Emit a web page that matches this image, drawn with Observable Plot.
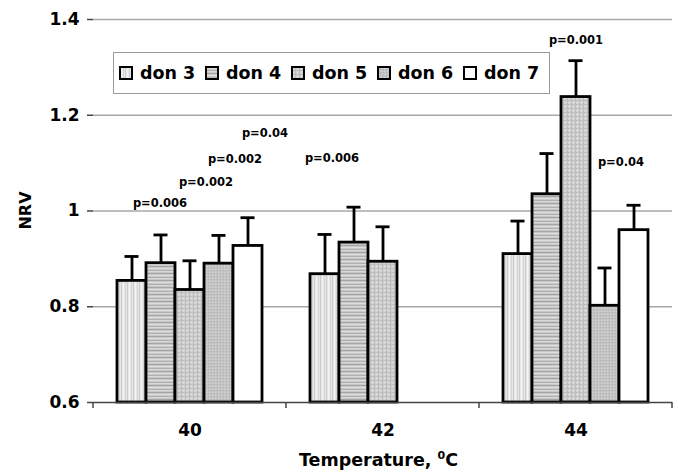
<!DOCTYPE html>
<html><head><meta charset="utf-8">
<script src="https://cdn.jsdelivr.net/npm/d3@7"></script>
<script src="https://cdn.jsdelivr.net/npm/@observablehq/plot@0.6"></script>
<style>
body{margin:0;background:#fff;}
#wrap{position:relative;width:678px;height:475px;font-family:"DejaVu Sans",sans-serif;}
#wrap svg text{font-weight:bold;}
#legend{position:absolute;left:113px;top:52px;width:437px;height:42px;border:1px solid #9a9a9a;background:#fff;box-sizing:border-box;display:flex;align-items:center;padding-left:5px;}
.item{display:flex;align-items:center;width:87.5px;font-weight:bold;font-size:17.5px;color:#000;}
.item svg{margin-right:7px;display:block;}
</style></head><body>
<svg width="0" height="0" style="position:absolute">
<defs>
<pattern id="pat3" patternUnits="userSpaceOnUse" width="6" height="4">
<rect width="6" height="4" fill="#e6e6e6"/><rect x="0" width="1" height="4" fill="#cdcdcd"/><rect x="2" width="1" height="4" fill="#f4f4f4"/><rect x="4" width="1" height="4" fill="#d6d6d6"/>
</pattern>
<pattern id="pat4" patternUnits="userSpaceOnUse" width="4" height="7">
<rect width="4" height="7" fill="#c8c8c8"/><rect y="0" width="4" height="1" fill="#a4a4a4"/><rect y="2" width="4" height="1" fill="#dedede"/><rect y="4" width="4" height="1" fill="#b0b0b0"/><rect y="5" width="4" height="1" fill="#d8d8d8"/>
</pattern>
<pattern id="pat5" patternUnits="userSpaceOnUse" width="4" height="4">
<rect width="4" height="4" fill="#d2d2d2"/><rect x="0" width="1" height="4" fill="#bcbcbc"/><rect y="0" width="4" height="1" fill="#bebebe"/><rect x="2" y="2" width="1" height="1" fill="#e6e6e6"/>
</pattern>
<pattern id="pat6" patternUnits="userSpaceOnUse" width="3" height="3">
<rect width="3" height="3" fill="#c4c4c4"/><rect x="0" y="0" width="1" height="1" fill="#afafaf"/><rect x="1" y="2" width="1" height="1" fill="#d6d6d6"/>
</pattern>
</defs></svg>
<div id="wrap"><div id="legend"></div></div>
<script>
// ---- data ----
const temps = ["40", "42", "44"];
const donors = ["don 3", "don 4", "don 5", "don 6", "don 7"];
const nrv40 = [0.854, 0.891, 0.835, 0.890, 0.927];
const err40 = [0.051, 0.059, 0.061, 0.059, 0.059];
const nrv42 = [0.868, 0.934, 0.894];
const err42 = [0.083, 0.074, 0.073];
const nrv44 = [0.910, 1.035, 1.238, 0.802, 0.960];
const err44 = [0.069, 0.085, 0.076, 0.079, 0.052];
const yTicks = [0.6, 0.8, 1.0, 1.2, 1.4];
const pTemps = ["40", "40", "40", "40", "42", "44", "44"];
const pDonors = ["don 4", "don 5", "don 6", "don 7", "don 3", "don 5", "don 6"];
const pLevels = [1.017, 1.059, 1.109, 1.163, 1.110, 1.356, 1.101];
const pTexts = ["p=0.006", "p=0.002", "p=0.002", "p=0.04", "p=0.006", "p=0.001", "p=0.04"];

// ---- build table ----
const series = [[nrv40, err40], [nrv42, err42], [nrv44, err44]];
const rows = [];
temps.forEach((t, i) => {
  const [vals, errs] = series[i];
  vals.forEach((v, j) => rows.push({temp: t, donor: donors[j], value: v, err: errs[j]}));
});
const notes = pTexts.map((s, i) => ({temp: pTemps[i], donor: pDonors[i], level: pLevels[i], text: s}));
const fills = ["url(#pat3)", "url(#pat4)", "url(#pat5)", "url(#pat6)", "#ffffff"];
const yMin = yTicks[0];
// label nudges (style): centered on bar or at the bar's right edge
const noteDx = [-1, 16, 16, 17, 7, 0, 16];

const plot = Plot.plot({
  width: 678, height: 475,
  marginLeft: 92, marginRight: 6, marginTop: 19, marginBottom: 73,
  style: {fontFamily: "DejaVu Sans", background: "#fff"},
  fx: {domain: temps, paddingInner: 0, paddingOuter: 0, label: null},
  x: {type: "band", domain: donors, paddingInner: 0, paddingOuter: 0.74, axis: null},
  y: {domain: [yTicks[0], yTicks[yTicks.length - 1]], axis: null},
  color: {type: "ordinal", domain: donors, range: fills},
  marks: [
    Plot.gridY(yTicks.slice(1), {stroke: "#a8a8a8", strokeOpacity: 1, strokeWidth: 1.3}),
    Plot.barY(rows, {fx: "temp", x: "donor", y1: () => yMin, y2: "value", fill: "donor", stroke: "#000", strokeWidth: 2.8}),
    Plot.ruleX(rows, {fx: "temp", x: "donor", y1: "value", y2: d => d.value + d.err, stroke: "#000", strokeWidth: 2.8}),
    Plot.tickY(rows, {fx: "temp", x: "donor", y: d => d.value + d.err, stroke: "#000", strokeWidth: 2.8, insetLeft: 7.5, insetRight: 7.5}),
    ...notes.map((n, i) => Plot.text([n], {fx: "temp", x: "donor", y: "level", text: "text", dx: noteDx[i], fontSize: 11.5, fontWeight: "bold", fill: "#000"})),
    Plot.ruleY([yMin], {stroke: "#444", strokeWidth: 1.5}),
    Plot.axisY({ticks: yTicks, tickFormat: d => String(d), tickSize: 6, tickPadding: 8, fontSize: 17, fontWeight: "bold", stroke: "#444", strokeWidth: 1.5, label: null, color: "#000"}),
    Plot.ruleX([yMin], {facetAnchor: "left", frameAnchor: "left", y1: yTicks[0], y2: yTicks[yTicks.length - 1], stroke: "#444", strokeWidth: 1.5}),
    Plot.axisFx({anchor: "bottom", tickSize: 0, tickPadding: 21, fontSize: 17, fontWeight: "bold", label: null})
  ]
});

const wrap = document.getElementById("wrap");
wrap.insertBefore(plot, wrap.firstChild);

// boundary ticks of the category axis and axis titles
const svg = d3.select(plot);
const fx = plot.scale("fx"), y = plot.scale("y");
const y0 = y.apply(yMin);
const edges = temps.map(t => fx.apply(t)).concat([fx.apply(temps[temps.length - 1]) + fx.bandwidth]);
svg.append("g").selectAll("line").data(edges).join("line")
  .attr("x1", d => d).attr("x2", d => d).attr("y1", y0).attr("y2", y0 + 6)
  .attr("stroke", "#444").attr("stroke-width", 1.5);
const xt = svg.append("text")
  .attr("x", (fx.apply(temps[0]) + edges[edges.length - 1]) / 2 - 4).attr("y", 466)
  .attr("text-anchor", "middle").attr("font-size", 17.5).attr("font-weight", "bold");
xt.append("tspan").text("Temperature, ");
xt.append("tspan").attr("dy", -7).attr("font-size", 11).text("0");
xt.append("tspan").attr("dy", 7).text("C");
svg.append("text")
  .attr("transform", `translate(25,${(y.apply(yTicks[0]) + y.apply(yTicks[yTicks.length - 1])) / 2}) rotate(-90)`)
  .attr("text-anchor", "middle").attr("dominant-baseline", "central")
  .attr("font-size", 16).attr("font-weight", "bold").text("NRV");

// legend
const legend = d3.select("#legend");
donors.forEach((dn, i) => {
  const it = legend.append("div").attr("class", "item");
  const s = it.append("svg").attr("width", 14).attr("height", 14);
  s.append("rect").attr("x", 1).attr("y", 1).attr("width", 12).attr("height", 12)
    .attr("fill", fills[i]).attr("stroke", "#000").attr("stroke-width", 2);
  it.append("span").text(dn);
});
</script>
</body></html>
